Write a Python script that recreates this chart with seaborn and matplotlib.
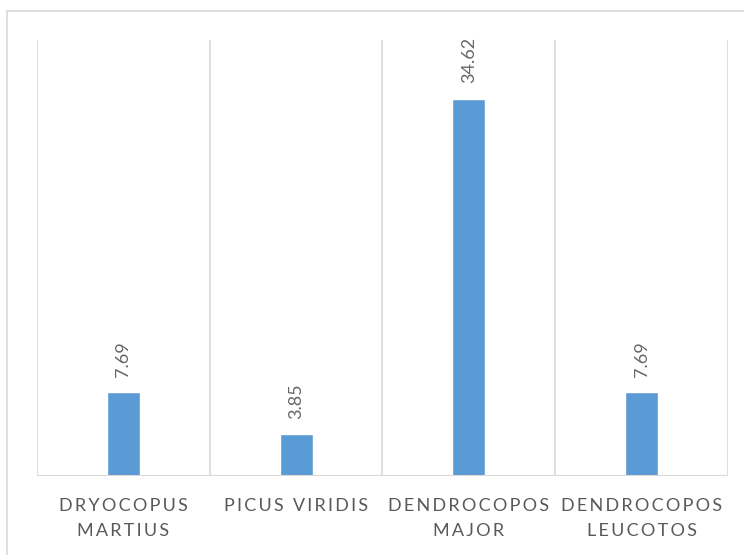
import matplotlib
matplotlib.use("Agg")
import matplotlib.pyplot as plt
from matplotlib.lines import Line2D
import seaborn as sns
import pandas as pd

species = ["Dryocopus\nMartius", "Picus Viridis", "Dendrocopos\nMajor", "Dendrocopos\nLeucotos"]
shares = [7.69, 3.85, 34.62, 7.69]
value_labels = ["7.69", "3.85", "34.62", "7.69"]

sns.set_theme(style="white")
plt.rcParams["font.family"] = ["Lato", "DejaVu Sans"]

W, H = 744, 555
fig = plt.figure(figsize=(W / 100, H / 100), dpi=100)
fig.patch.set_facecolor("white")

# outer chart frame (top and left edges)
fig.add_artist(Line2D([7 / W, 7 / W], [0, 1 - 11 / H], transform=fig.transFigure,
                      color="#d9d9d9", lw=1.2))
fig.add_artist(Line2D([7 / W, 1], [1 - 11 / H, 1 - 11 / H], transform=fig.transFigure,
                      color="#d9d9d9", lw=1.2))

left, right, top, base = 37, 728, 40, 476
ax = fig.add_axes([left / W, (H - base) / H, (right - left) / W, (base - top) / H])

df = pd.DataFrame({"species": species, "share": shares})
sns.barplot(data=df, x="species", y="share", color="#5B9BD5", saturation=1,
            width=0.19, ax=ax)

ax.set_xlim(-0.5, 3.5)
ax.set_ylim(0, 40)
for s in ax.spines.values():
    s.set_visible(False)
for xb in [-0.5, 0.5, 1.5, 2.5, 3.5]:
    ax.axvline(xb, color="#d9d9d9", lw=1.2, zorder=0)
ax.axhline(0, color="#d9d9d9", lw=1.5, zorder=3)

ax.set_yticks([])
ax.set_xlabel("")
ax.set_ylabel("")


def spaced(text):
    return "\n".join("\u2009".join(line.upper()) for line in text.split("\n"))


ax.set_xticks(range(len(species)))
ax.set_xticklabels([spaced(s) for s in species], fontsize=13, color="#595959",
                   linespacing=1.7, va="top")
ax.tick_params(axis="x", length=0, pad=16)

for i, (v, lab) in enumerate(zip(shares, value_labels)):
    ax.annotate(lab, (i, v), xytext=(0, 11), textcoords="offset points",
                rotation=90, ha="center", va="bottom", fontsize=13,
                color="#666666")

fig.savefig("out.png", dpi=100, facecolor="white")
